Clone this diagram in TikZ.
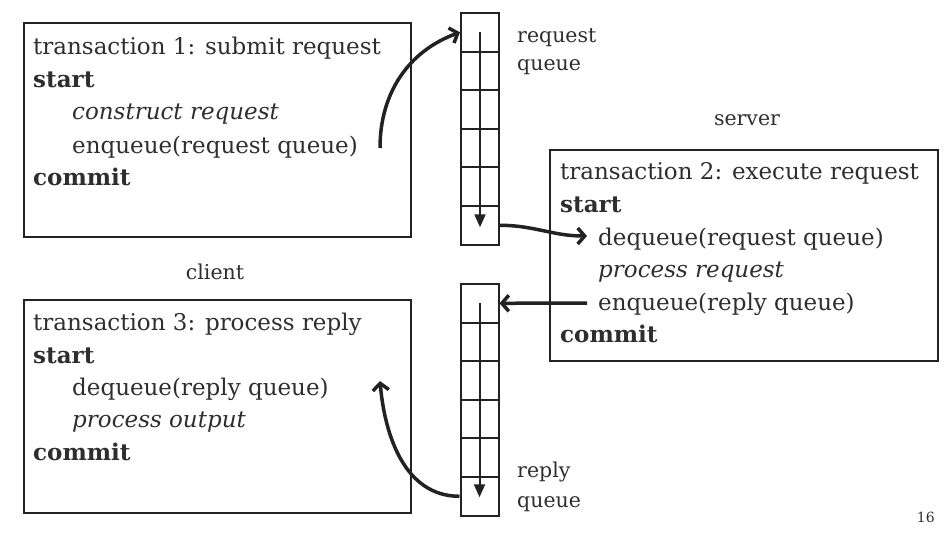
\documentclass[tikz,border=0pt]{standalone}
\usepackage{fontspec}
\setmainfont{DejaVu Serif}
\usetikzlibrary{arrows.meta}
\definecolor{ink}{HTML}{222222}
\definecolor{txt}{HTML}{2E2E2E}
\tikzset{
  box/.style={draw=ink, line width=2pt, anchor=north west, inner sep=0pt},
  cell/.style={draw=ink, line width=2pt, minimum width=38pt, minimum height=38.6pt, inner sep=0pt},
  ln/.style={anchor=base west, inner sep=0pt, text=txt, font=\fontsize{23}{28}\selectfont},
  lbl/.style={anchor=base west, inner sep=0pt, text=txt, font=\fontsize{20.5}{24}\selectfont},
  flow/.style={ink, line width=3.5pt, -{Straight Barb[length=7pt,width=16pt]}},
  fifo/.style={ink, line width=2pt, -{Triangle[length=13pt,width=11pt]}}
}

\begin{document}
\begin{tikzpicture}[x=1pt,y=1pt]
  \useasboundingbox (0,0) rectangle (950,-533);

  \node[box, minimum width=387pt, minimum height=214pt] (tx1) at (23,-22) {};
  \node[box, minimum width=388pt, minimum height=211pt] (tx2) at (549,-149) {};
  \node[box, minimum width=387pt, minimum height=213pt] (tx3) at (23,-299) {};

  \node[ln] (t1a) at (33,-54) {transaction 1: submit request};
  \node[ln] (t1b) at (33,-87) {\textbf{start}};
  \node[ln] (t1c) at (72,-119) {\textit{construct request}};
  \node[ln] (t1d) at (72,-153) {enqueue(request queue)};
  \node[ln] (t1e) at (33,-185) {\textbf{commit}};

  \node[ln] (t2a) at (560,-179) {transaction 2: execute request};
  \node[ln] (t2b) at (560,-212) {\textbf{start}};
  \node[ln] (t2c) at (598,-245) {dequeue(request queue)};
  \node[ln] (t2d) at (598,-277) {\textit{process request}};
  \node[ln] (t2e) at (598,-310) {enqueue(reply queue)};
  \node[ln] (t2f) at (560,-342) {\textbf{commit}};

  \node[ln] (t3a) at (33,-330) {transaction 3: process reply};
  \node[ln] (t3b) at (33,-363) {\textbf{start}};
  \node[ln] (t3c) at (72,-395) {dequeue(reply queue)};
  \node[ln] (t3d) at (72,-427) {\textit{process output}};
  \node[ln] (t3e) at (33,-460) {\textbf{commit}};

  \node[lbl, anchor=base] (server) at (747,-125) {server};
  \node[lbl, anchor=base] (client) at (215,-279) {client};
  \node[lbl] (rqa) at (517,-42) {request};
  \node[lbl] (rqb) at (517,-70) {queue};
  \node[lbl] (rpa) at (517,-477) {reply};
  \node[lbl] (rpb) at (517,-507) {queue};
  \node[lbl, anchor=base east, font=\fontsize{14}{16}\selectfont] (page) at (935,-522) {16};

  \foreach \i in {0,...,5} {
    \node[cell] (rq\i) at (480,-13-19.3-38.6*\i) {};
    \node[cell] (rp\i) at (479.5,-284-19.3-38.6*\i) {};
  }
  \draw[fifo] (rq0.center) -- ([yshift=-2pt]rq5.center);
  \draw[fifo] (rp0.center) -- ([yshift=-1pt]rp5.center);

  \coordinate (send) at (380,-148);
  \coordinate (take) at (587,-236);
  \coordinate (give) at (587,-303);
  \coordinate (back) at (380,-381);

  \draw[flow] (send) to[out=90,in=200] (rq0.west);
  \draw[flow] (rq5.east) to[out=0,in=180] (take);
  \draw[flow] (give) -- (rp0.east);
  \draw[flow] (rp5.west) to[out=180,in=-85] (back);
\end{tikzpicture}
\end{document}
